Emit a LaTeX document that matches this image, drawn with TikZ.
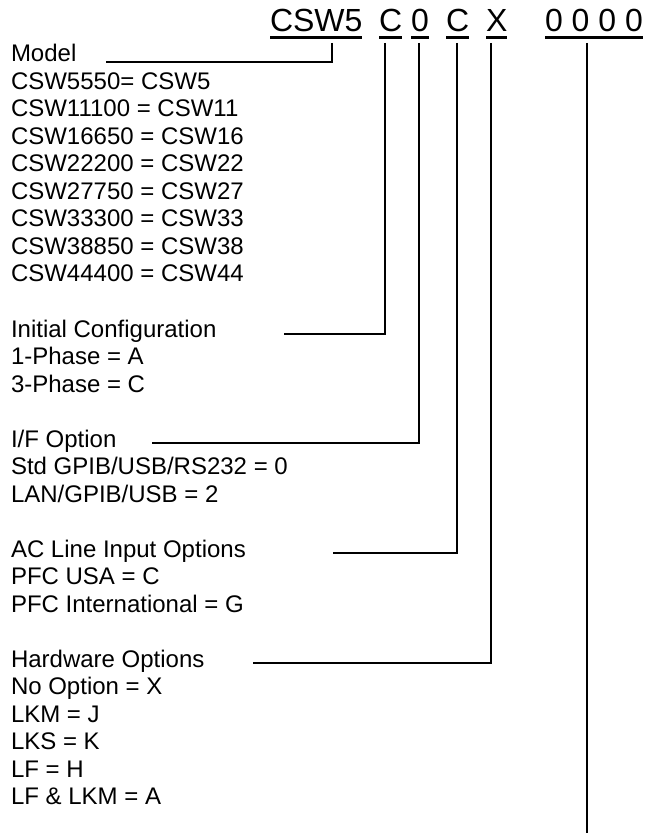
\documentclass[tikz,border=0pt]{standalone}
\usepackage{fontspec}
\setmainfont{Liberation Sans}
\tikzset{
  >=latex,
}
\tikzstyle{every node}=[inner sep=0pt,outer sep=0pt]
\tikzstyle{code}=[anchor=base west,font=\fontsize{16}{19}\selectfont]
\tikzstyle{row}=[anchor=base west,font=\fontsize{12}{14}\selectfont]
\tikzstyle{uline}=[line width=1.4pt]
\tikzstyle{lead}=[line width=1pt]

\begin{document}
\begin{tikzpicture}[x=0.5pt,y=-0.5pt]
  \useasboundingbox (0,0) rectangle (644,833);
  % part number
  \node[code] (csw) at (270,32) {CSW5};
  \node[code] (cfg) at (379,32) {C};
  \node[code] (ifo) at (411,32) {0};
  \node[code] (acl) at (446,32) {C};
  \node[code] (hwo) at (486,32) {X};
  \node[code] (sfx) at (545,32) {0 0 0 0};
  \foreach \n in {csw,cfg,ifo,acl,hwo,sfx}
    \draw[uline] ([yshift=-2.6pt]\n.base west)--([yshift=-2.6pt]\n.base east);
  % option list
  \foreach \k/\txt in {0/Model, 1/CSW5550= CSW5, 2/CSW11100 = CSW11,
      3/CSW16650 = CSW16, 4/CSW22200 = CSW22, 5/CSW27750 = CSW27,
      6/CSW33300 = CSW33, 7/CSW38850 = CSW38, 8/CSW44400 = CSW44,
      10/Initial Configuration, 11/1-Phase = A, 12/3-Phase = C,
      14/{I/F Option}, 15/{Std GPIB/USB/RS232 = 0}, 16/{LAN/GPIB/USB = 2},
      18/AC Line Input Options, 19/PFC USA = C, 20/PFC International = G,
      22/Hardware Options, 23/No Option = X, 24/LKM = J, 25/LKS = K,
      26/LF = H, 27/LF \& LKM = A}
    \node[row] (r\k) at (11,62+27.5*\k) {\txt};
  % leaders
  \coordinate (tcsw) at (332,43);
  \coordinate (tcfg) at (385,43);
  \coordinate (tifo) at (419,43);
  \coordinate (tacl) at (457,43);
  \coordinate (thwo) at (491,43);
  \coordinate (tsfx) at (587,43);
  \coordinate (ecsw) at (106,62);
  \coordinate (ecfg) at (284,334);
  \coordinate (eifo) at (152,443);
  \coordinate (eacl) at (333,553);
  \coordinate (ehwo) at (253,663);
  \coordinate (esfx) at (587,833);
  \foreach \n in {csw,cfg,ifo,acl,hwo}
    \draw[lead] (t\n) |- (e\n);
  \draw[lead] (tsfx)--(esfx);
\end{tikzpicture}
\end{document}
